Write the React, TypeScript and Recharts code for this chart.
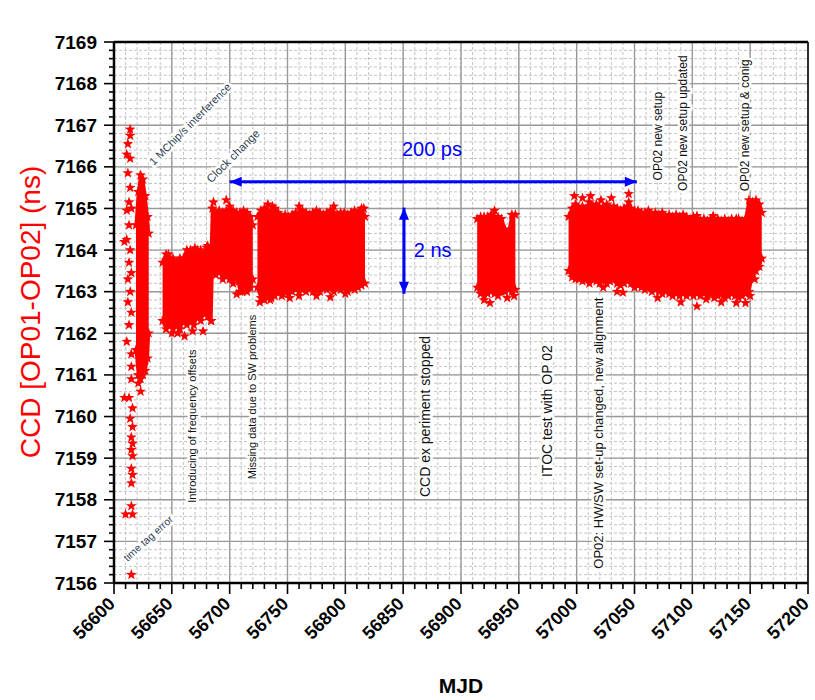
import React from 'react';
import {
  ComposedChart,
  Area,
  Scatter,
  XAxis,
  YAxis,
  CartesianGrid,
  ReferenceLine,
} from 'recharts';

const FONT = "'Liberation Sans', Arial, Helvetica, sans-serif";
const RED = '#ff0000';
const BLUE = '#0000ff';

// axis ticks
const xMajor = [56600, 56650, 56700, 56750, 56800, 56850, 56900, 56950, 57000, 57050, 57100, 57150, 57200];
const yMajor = [7156, 7157, 7158, 7159, 7160, 7161, 7162, 7163, 7164, 7165, 7166, 7167, 7168, 7169];

const steps = (from: number, to: number, step: number) => {
  const out: number[] = [];
  const n = Math.round((to - from) / step);
  for (let i = 0; i <= n; i++) out.push(Math.round((from + i * step) * 10) / 10);
  return out;
};
const xMinor = steps(56600, 57200, 10);
const yMinor = steps(7156, 7169, 0.2);

// dense clouds: per-day lower / upper envelope (null = gap)
const bandMjd = [
  56619, 56621, 56623, 56625, 56627, 56629, 56630,
  56636,
  56642, 56645, 56648, 56651, 56654, 56657, 56660, 56663, 56666, 56669, 56672, 56675, 56678, 56681, 56684,
  56685, 56688, 56691, 56694, 56697, 56700, 56703, 56706, 56709, 56712, 56715, 56718, 56720,
  56722,
  56724, 56727, 56730, 56733, 56736, 56739, 56742, 56745, 56748, 56751, 56754, 56757, 56760, 56763, 56766,
  56769, 56772, 56775, 56778, 56781, 56784, 56787, 56790, 56793, 56796, 56799, 56802, 56805, 56808, 56811,
  56814, 56817,
  56860,
  56914, 56917, 56920, 56923, 56926, 56929, 56932, 56935, 56938, 56941, 56944, 56947,
  56970,
  56993, 56996, 56999, 57002, 57005, 57008, 57011, 57014, 57017, 57020, 57023, 57026, 57029, 57032, 57035,
  57038, 57041, 57044, 57047, 57050, 57053, 57056, 57059, 57062, 57065, 57068, 57071, 57074, 57077, 57080,
  57083, 57086, 57089, 57092, 57095, 57098, 57101, 57104, 57107, 57110, 57113, 57116, 57119, 57122, 57125,
  57128, 57131, 57134, 57137, 57140, 57143, 57146, 57149, 57152, 57155, 57158, 57160,
];
const bandLo = [
  7161.6, 7161.0, 7160.9, 7161.0, 7161.1, 7161.4, 7162.0,
  null,
  7162.3, 7162.1, 7162.2, 7162.1, 7162.2, 7162.1, 7162.3, 7162.2, 7162.3, 7162.2, 7162.4, 7162.3, 7162.5, 7162.4, 7162.3,
  7163.5, 7163.4, 7163.5, 7163.3, 7163.4, 7163.3, 7163.2, 7163.4, 7163.0, 7163.1, 7163.0, 7163.1, 7163.3,
  null,
  7163.1, 7162.85, 7162.8, 7162.9, 7162.85, 7162.9, 7163.0, 7162.9, 7163.0, 7162.95, 7163.0, 7163.1, 7163.0, 7163.05, 7163.0,
  7163.1, 7163.0, 7163.05, 7163.0, 7163.1, 7163.05, 7163.1, 7163.0, 7163.1, 7163.05, 7163.1, 7163.0, 7163.1, 7163.05, 7163.1,
  7163.15, 7163.2,
  null,
  7163.1, 7162.95, 7162.9, 7162.95, 7163.0, 7162.95, 7162.9, 7163.0, 7163.0, 7163.05, 7163.0, 7163.05,
  null,
  7163.5, 7163.35, 7163.3, 7163.3, 7163.25, 7163.3, 7163.2, 7163.3, 7163.25, 7163.2, 7163.3, 7163.2, 7163.25, 7163.3, 7163.2,
  7163.15, 7163.2, 7163.25, 7163.2, 7163.1, 7163.15, 7163.1, 7163.05, 7163.1, 7163.0, 7163.05, 7163.0, 7162.95, 7163.0, 7162.95,
  7162.9, 7162.95, 7162.9, 7162.95, 7162.9, 7162.95, 7162.9, 7162.95, 7162.9, 7162.95, 7162.9, 7162.95, 7162.85, 7162.9, 7162.95,
  7162.85, 7162.9, 7162.95, 7162.9, 7162.85, 7162.9, 7162.95, 7163.0, 7163.4, 7163.5, 7163.6, 7163.8,
];
const bandHi = [
  7164.6, 7165.4, 7165.8, 7165.7, 7165.3, 7164.8, 7164.4,
  null,
  7163.7, 7163.9, 7163.8, 7163.8, 7163.7, 7163.8, 7163.8, 7164.0, 7164.0, 7163.9, 7164.0, 7164.0, 7163.9, 7164.1, 7164.0,
  7165.0, 7164.9, 7164.95, 7164.9, 7164.95, 7164.9, 7164.95, 7164.9, 7164.9, 7164.95, 7164.9, 7164.8, 7164.6,
  null,
  7164.8, 7164.95, 7165.0, 7164.95, 7164.9, 7165.0, 7164.9, 7164.8, 7164.85, 7164.8, 7164.85, 7164.9, 7164.9, 7164.95, 7164.9,
  7164.85, 7164.9, 7164.95, 7164.9, 7164.85, 7164.9, 7164.95, 7164.9, 7164.85, 7164.9, 7164.9, 7164.85, 7164.9, 7164.95, 7164.9,
  7165.0, 7164.8,
  null,
  7164.75, 7164.8, 7164.8, 7164.8, 7164.85, 7164.8, 7164.8, 7164.75, 7164.5, 7164.4, 7164.85, 7164.85,
  null,
  7164.8, 7165.0, 7165.1, 7165.0, 7165.05, 7165.0, 7165.15, 7165.05, 7165.1, 7165.0, 7165.05, 7165.1, 7165.0, 7165.05, 7165.0,
  7164.95, 7165.0, 7165.05, 7165.0, 7164.95, 7164.95, 7164.9, 7164.9, 7164.95, 7164.85, 7164.9, 7164.85, 7164.9, 7164.8, 7164.85,
  7164.8, 7164.85, 7164.8, 7164.85, 7164.8, 7164.75, 7164.8, 7164.75, 7164.7, 7164.75, 7164.7, 7164.75, 7164.7, 7164.75, 7164.7,
  7164.75, 7164.7, 7164.75, 7164.7, 7164.75, 7164.7, 7164.75, 7165.2, 7165.15, 7165.2, 7165.1, 7164.9,
];

// isolated stars
const starMjd = [
  56614, 56614, 56612, 56611, 56614, 56612, 56614, 56613, 56615, 56611, 56613, 56609, 56611, 56614, 56613,
  56615, 56612, 56614, 56612, 56615, 56613, 56611, 56615, 56615, 56615, 56621, 56623, 56609, 56613, 56616,
  56614, 56616, 56615, 56616, 56615, 56616, 56615, 56616, 56615, 56615, 56610, 56616, 56615,
  56647, 56661, 56670, 56677, 56680, 56684, 56650, 56655, 56668,
  56686, 56697, 56706, 56708, 56711, 56700,
  56726, 56729, 56735, 56737, 56746, 56752, 56760, 56775, 56787, 56800, 56812, 56816, 56733, 56760, 56790,
  56925, 56929, 56946, 56920, 56940,
  56998, 57005, 57012, 57021, 57023, 57030, 57035, 57040, 57045, 57045, 57070, 57090,
  57104, 57104, 57112, 57118, 57125, 57138, 57138, 57146, 57150, 57154,
];
const starVal = [
  7166.9, 7166.75, 7166.55, 7166.3, 7166.2, 7165.85, 7165.5, 7165.15, 7165.0, 7164.95, 7164.6, 7164.2, 7164.25, 7164.0, 7163.7,
  7163.45, 7163.3, 7163.0, 7162.75, 7162.5, 7162.2, 7161.8, 7161.5, 7161.2, 7160.9, 7160.8, 7160.6, 7160.45, 7160.45, 7160.2,
  7159.95, 7159.75, 7159.5, 7159.35, 7159.2, 7159.05, 7158.75, 7158.6, 7158.4, 7157.85, 7157.65, 7157.65, 7156.2,
  7163.9, 7161.93, 7164.05, 7162.05, 7164.06, 7162.3, 7162.0, 7162.0, 7162.05,
  7165.15, 7165.2, 7162.94, 7163.25, 7163.0, 7165.05,
  7162.75, 7162.82, 7162.8, 7165.05, 7162.95, 7162.85, 7162.9, 7162.9, 7162.87, 7162.95, 7163.2, 7165.0, 7165.1, 7165.05, 7165.05,
  7162.73, 7164.95, 7162.9, 7162.8, 7162.85,
  7165.3, 7165.25, 7165.3, 7165.2, 7163.1, 7165.25, 7163.0, 7162.98, 7165.35, 7165.15, 7162.85, 7162.75,
  7162.65, 7164.82, 7162.82, 7164.82, 7162.75, 7164.75, 7162.73, 7162.73, 7162.9, 7163.3,
];

// annotations (centre position in data units)
const notes = [
  { text: '1 MChip/s interference', mjd: 56665.7, val: 7167.03, angle: -45, size: 11, color: '#2f3f55' },
  { text: 'Clock change', mjd: 56702.9, val: 7166.26, angle: -45, size: 11.5, color: '#2f3f55' },
  { text: 'time tag error', mjd: 56629.4, val: 7157.08, angle: -42, size: 10.5, color: '#2f3f55' },
  { text: 'Introducing of frequency offsets', mjd: 56667.2, val: 7159.77, angle: -90, size: 11, color: '#111' },
  { text: 'Missing data due to SW problems', mjd: 56719, val: 7160.47, angle: -90, size: 11, color: '#111' },
  { text: 'CCD ex periment stopped', mjd: 56868.9, val: 7160.0, angle: -90, size: 14, color: '#111' },
  { text: 'ITOC test with OP 02', mjd: 56974, val: 7160.13, angle: -90, size: 14, color: '#111' },
  { text: 'OP02: HW/SW set-up changed, new alignment', mjd: 57018.7, val: 7159.6, angle: -90, size: 13, color: '#111' },
  { text: 'OP02 new setup', mjd: 57070.6, val: 7166.74, angle: -90, size: 12, color: '#111' },
  { text: 'OP02 new setup updated', mjd: 57091.7, val: 7167.05, angle: -90, size: 12, color: '#111' },
  { text: 'OP02 new setup & conig', mjd: 57145.5, val: 7167.0, angle: -90, size: 12, color: '#111' },
  { text: '200 ps', mjd: 56874.9, val: 7166.42, angle: 0, size: 20, color: BLUE },
  { text: '2 ns', mjd: 56875.5, val: 7164.0, angle: 0, size: 20, color: BLUE },
];

const arrow200 = { from: 56700, to: 57052, val: 7165.64 };
const arrow2ns = { mjd: 56850.7, from: 7165.02, to: 7162.95 };

const chartData = bandMjd.map((m, i) => ({
  mjd: m,
  band: bandLo[i] == null ? null : [bandLo[i], bandHi[i]],
}));
const edgeStars = chartData
  .filter((d) => d.band)
  .flatMap((d) => [
    { mjd: d.mjd, val: (d.band as number[])[0] },
    { mjd: d.mjd, val: (d.band as number[])[1] },
  ]);
const looseStars = starMjd.map((m, i) => ({ mjd: m, val: starVal[i] }));

const StarShape = (props: any) => {
  const { cx, cy } = props;
  if (cx == null || cy == null) return null;
  const pts: string[] = [];
  for (let i = 0; i < 10; i++) {
    const r = i % 2 ? 2.3 : 5.6;
    const a = ((-90 + i * 36) * Math.PI) / 180;
    pts.push(`${cx + r * Math.cos(a)},${cy + r * Math.sin(a)}`);
  }
  return <polygon points={pts.join(' ')} fill={RED} />;
};

const NoteShape = (props: any) => {
  const { cx, cy, payload } = props;
  return (
    <text
      x={cx}
      y={cy}
      transform={`rotate(${payload.angle} ${cx} ${cy})`}
      textAnchor="middle"
      dominantBaseline="central"
      fontFamily={FONT}
      fontSize={payload.size}
      fill={payload.color}
      stroke="#fff"
      strokeWidth={payload.color === BLUE ? 0 : 5}
      paintOrder="stroke"
    >
      {payload.text}
    </text>
  );
};

const ArrowShape = (props: any) => {
  const { x1, y1, x2, y2 } = props;
  const ang = Math.atan2(y2 - y1, x2 - x1);
  const len = 12;
  const half = 5;
  const head = (x: number, y: number, dir: number) => {
    const bx = x - dir * len * Math.cos(ang);
    const by = y - dir * len * Math.sin(ang);
    const px = -Math.sin(ang) * half;
    const py = Math.cos(ang) * half;
    return `${x},${y} ${bx + px},${by + py} ${bx - px},${by - py}`;
  };
  return (
    <g>
      <line x1={x1} y1={y1} x2={x2} y2={y2} stroke={BLUE} strokeWidth={3} />
      <polygon points={head(x2, y2, 1)} fill={BLUE} />
      <polygon points={head(x1, y1, -1)} fill={BLUE} />
    </g>
  );
};

const XTick = (props: any) => {
  const { x, y, payload } = props;
  const v = payload.value;
  const major = v % 50 === 0;
  const tx = x + 2;
  const ty = y + 22;
  return (
    <g>
      <line x1={x} y1={y} x2={x} y2={y + (major ? 11 : 6)} stroke="#000" strokeWidth={1.6} />
      {major && (
        <text
          x={tx}
          y={ty}
          transform={`rotate(-45 ${tx} ${ty})`}
          textAnchor="end"
          fontFamily={FONT}
          fontWeight="bold"
          fontSize={18}
          fill="#000"
        >
          {v}
        </text>
      )}
    </g>
  );
};

const YTick = (props: any) => {
  const { x, y, payload } = props;
  const v = payload.value;
  const major = Math.abs(v - Math.round(v)) < 1e-6;
  return (
    <g>
      <line x1={x} y1={y} x2={x - (major ? 10 : 5)} y2={y} stroke="#000" strokeWidth={1.6} />
      {major && (
        <text
          x={x - 17}
          y={y}
          textAnchor="end"
          dominantBaseline="central"
          fontFamily={FONT}
          fontWeight="bold"
          fontSize={19}
          fill="#000"
        >
          {v}
        </text>
      )}
    </g>
  );
};

const XTitle = (props: any) => {
  const { viewBox } = props;
  return (
    <text
      x={viewBox.x + viewBox.width / 2}
      y={693}
      textAnchor="middle"
      fontFamily={FONT}
      fontWeight="bold"
      fontSize={21}
      fill="#000"
    >
      MJD
    </text>
  );
};

const YTitle = () => (
  <text
    x={40}
    y={312}
    transform="rotate(-90 40 312)"
    textAnchor="middle"
    fontFamily={FONT}
    fontSize={28}
    fill={RED}
  >
    CCD [OP01-OP02] (ns)
  </text>
);

export default function App() {
  return (
    <div style={{ position: 'absolute', left: 0, top: 0, background: '#fff' }}>
      <ComposedChart
        width={815}
        height={700}
        data={chartData}
        margin={{ top: 42, right: 7, bottom: 57, left: 0 }}
      >
        <CartesianGrid
          verticalValues={xMinor}
          horizontalValues={yMinor}
          stroke="#c4c4c4"
          strokeDasharray="3 2"
          strokeWidth={1}
        />
        <CartesianGrid
          verticalValues={xMajor}
          horizontalValues={yMajor}
          stroke="#9a9a9a"
          strokeWidth={1.4}
        />
        <XAxis
          type="number"
          dataKey="mjd"
          domain={[56600, 57200]}
          ticks={xMinor}
          interval={0}
          tick={<XTick />}
          tickSize={0}
          tickMargin={0}
          tickLine={false}
          height={60}
          axisLine={{ stroke: '#000', strokeWidth: 2.5 }}
          label={<XTitle />}
        />
        <YAxis
          type="number"
          domain={[7156, 7169]}
          ticks={yMinor}
          interval={0}
          tick={<YTick />}
          tickSize={0}
          tickMargin={0}
          tickLine={false}
          width={114}
          axisLine={{ stroke: '#000', strokeWidth: 2.5 }}
          label={<YTitle />}
        />
        <Area
          type="linear"
          dataKey="band"
          stroke={RED}
          strokeWidth={3}
          fill={RED}
          fillOpacity={1}
          dot={false}
          activeDot={false}
          isAnimationActive={false}
        />
        <Scatter data={edgeStars} dataKey="val" shape={<StarShape />} isAnimationActive={false} />
        <Scatter data={looseStars} dataKey="val" shape={<StarShape />} isAnimationActive={false} />
        <ReferenceLine
          segment={[
            { x: arrow200.from, y: arrow200.val },
            { x: arrow200.to, y: arrow200.val },
          ]}
          shape={<ArrowShape />}
          ifOverflow="visible"
        />
        <ReferenceLine
          segment={[
            { x: arrow2ns.mjd, y: arrow2ns.from },
            { x: arrow2ns.mjd, y: arrow2ns.to },
          ]}
          shape={<ArrowShape />}
          ifOverflow="visible"
        />
        <Scatter data={notes} dataKey="val" shape={<NoteShape />} isAnimationActive={false} />
        <ReferenceLine y={7169} stroke="#000" strokeWidth={2.5} ifOverflow="visible" />
        <ReferenceLine x={57200} stroke="#000" strokeWidth={1.5} ifOverflow="visible" />
      </ComposedChart>
    </div>
  );
}
